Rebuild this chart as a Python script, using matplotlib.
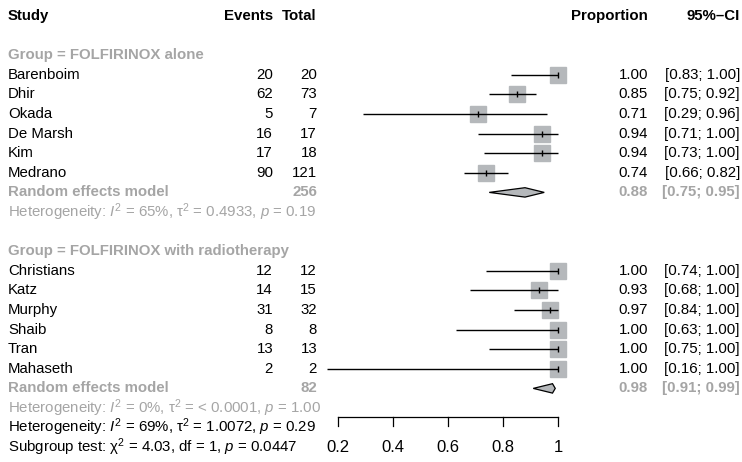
import numpy as np
import matplotlib
matplotlib.use("Agg")
from matplotlib import pyplot as plt
from matplotlib import transforms

plt.rcParams['font.family'] = ['Liberation Sans', 'DejaVu Sans']
plt.rcParams['mathtext.fontset'] = 'custom'
plt.rcParams['mathtext.rm'] = 'Liberation Sans'
plt.rcParams['mathtext.it'] = 'Liberation Sans:italic'
plt.rcParams['mathtext.bf'] = 'Liberation Sans:bold'

# data
group1 = "Group = FOLFIRINOX alone"
studies1 = ["Barenboim", "Dhir", "Okada", "De Marsh", "Kim", "Medrano"]
events1 = [20, 62, 5, 16, 17, 90]
total1 = [20, 73, 7, 17, 18, 121]
prop1 = [1.00, 0.85, 0.71, 0.94, 0.94, 0.74]
lo1 = [0.83, 0.75, 0.29, 0.71, 0.73, 0.66]
hi1 = [1.00, 0.92, 0.96, 1.00, 1.00, 0.82]
re1 = [0.88, 0.75, 0.95]
re_total1 = 256
het1 = r"Heterogeneity: $I^2$ = 65%, $\mathrm{\tau}^2$ = 0.4933, $p$ = 0.19"

group2 = "Group = FOLFIRINOX with radiotherapy"
studies2 = ["Christians", "Katz", "Murphy", "Shaib", "Tran", "Mahaseth"]
events2 = [12, 14, 31, 8, 13, 2]
total2 = [12, 15, 32, 8, 13, 2]
prop2 = [1.00, 0.93, 0.97, 1.00, 1.00, 1.00]
lo2 = [0.74, 0.68, 0.84, 0.63, 0.75, 0.16]
hi2 = [1.00, 1.00, 1.00, 1.00, 1.00, 1.00]
re2 = [0.98, 0.91, 0.99]
re_total2 = 82
het2 = r"Heterogeneity: $I^2$ = 0%, $\mathrm{\tau}^2$ = < 0.0001, $p$ = 1.00"

het_all = r"Heterogeneity: $I^2$ = 69%, $\mathrm{\tau}^2$ = 1.0072, $p$ = 0.29"
subgroup = r"Subgroup test: $\mathrm{\chi}^2$ = 4.03, df = 1, $p$ = 0.0447"
ticks = [0.2, 0.4, 0.6, 0.8, 1]

W, H = 742, 462
fig = plt.figure(figsize=(W / 100, H / 100), dpi=100)
ax = fig.add_axes([0, 0, 1, 1])
ax.set_axis_off()
# x: 0.2 -> px 338, 1.0 -> px 558
k = 275.0
ax.set_xlim(0.2 - 338 / k, 0.2 + (W - 338) / k)
# rows: row r -> px 16 + 19.6 r
dy = 19.6
ax.set_ylim((H - 16) / dy, -16 / dy)

tr = transforms.blended_transform_factory(ax.transAxes, ax.transData)
fs = 10.8
gray = "#a5a5a5"
sqc = "#b5b8bb"

def col(px):
    return px / W

def txt(px, row, s, ha="left", color="black", bold=False):
    ax.text(col(px), row, s, ha=ha, va="center", fontsize=fs, color=color,
            fontweight="bold" if bold else "normal", transform=tr)

# header
txt(8, 0, "Study", bold=True)
txt(273, 0, "Events", ha="right", bold=True)
txt(317, 0, "Total", ha="right", bold=True)
txt(648, 0, "Proportion", ha="right", bold=True)
txt(740, 0, "95%\u2013CI", ha="right", bold=True)

def block(start, title, studies, events, total, prop, lo, hi, re, re_total, het):
    txt(8, start, title, color=gray, bold=True)
    for i in range(len(studies)):
        r = start + 1 + i
        txt(8, r, studies[i])
        txt(273, r, str(events[i]), ha="right")
        txt(317, r, str(total[i]), ha="right")
        txt(648, r, "%.2f" % prop[i], ha="right")
        txt(740, r, "[%.2f; %.2f]" % (lo[i], hi[i]), ha="right")
        ax.plot([lo[i], hi[i]], [r, r], color="black", lw=1, solid_capstyle="butt", zorder=3)
        ax.plot(prop[i], r, marker="s", ms=11, color=sqc, mec=sqc, zorder=2)
        ax.plot(prop[i], r, marker="|", ms=5, color="black", mew=1, zorder=4)
    r = start + 1 + len(studies)
    txt(8, r, "Random effects model", color=gray, bold=True)
    txt(317, r, str(re_total), ha="right", color=gray, bold=True)
    txt(648, r, "%.2f" % re[0], ha="right", color=gray, bold=True)
    txt(740, r, "[%.2f; %.2f]" % (re[1], re[2]), ha="right", color=gray, bold=True)
    h = 0.24
    ax.fill([re[1], re[0], re[2], re[0]], [r, r - h, r, r + h],
            facecolor=sqc, edgecolor="black", lw=0.9, zorder=3)
    txt(8, r + 1, het, color=gray)

block(2, group1, studies1, events1, total1, prop1, lo1, hi1, re1, re_total1, het1)
block(12, group2, studies2, events2, total2, prop2, lo2, hi2, re2, re_total2, het2)
txt(8, 21, het_all)
txt(8, 22, subgroup)

# x axis
ya = (417 - 16) / dy
yt = (426 - 16) / dy
ax.plot([ticks[0], ticks[-1]], [ya, ya], color="black", lw=0.9)
for t in ticks:
    ax.plot([t, t], [ya, yt], color="black", lw=0.9)
    ax.text(t, (448 - 16) / dy, "%g" % t, ha="center", va="center", fontsize=12)

fig.savefig("out.png", dpi=100)
